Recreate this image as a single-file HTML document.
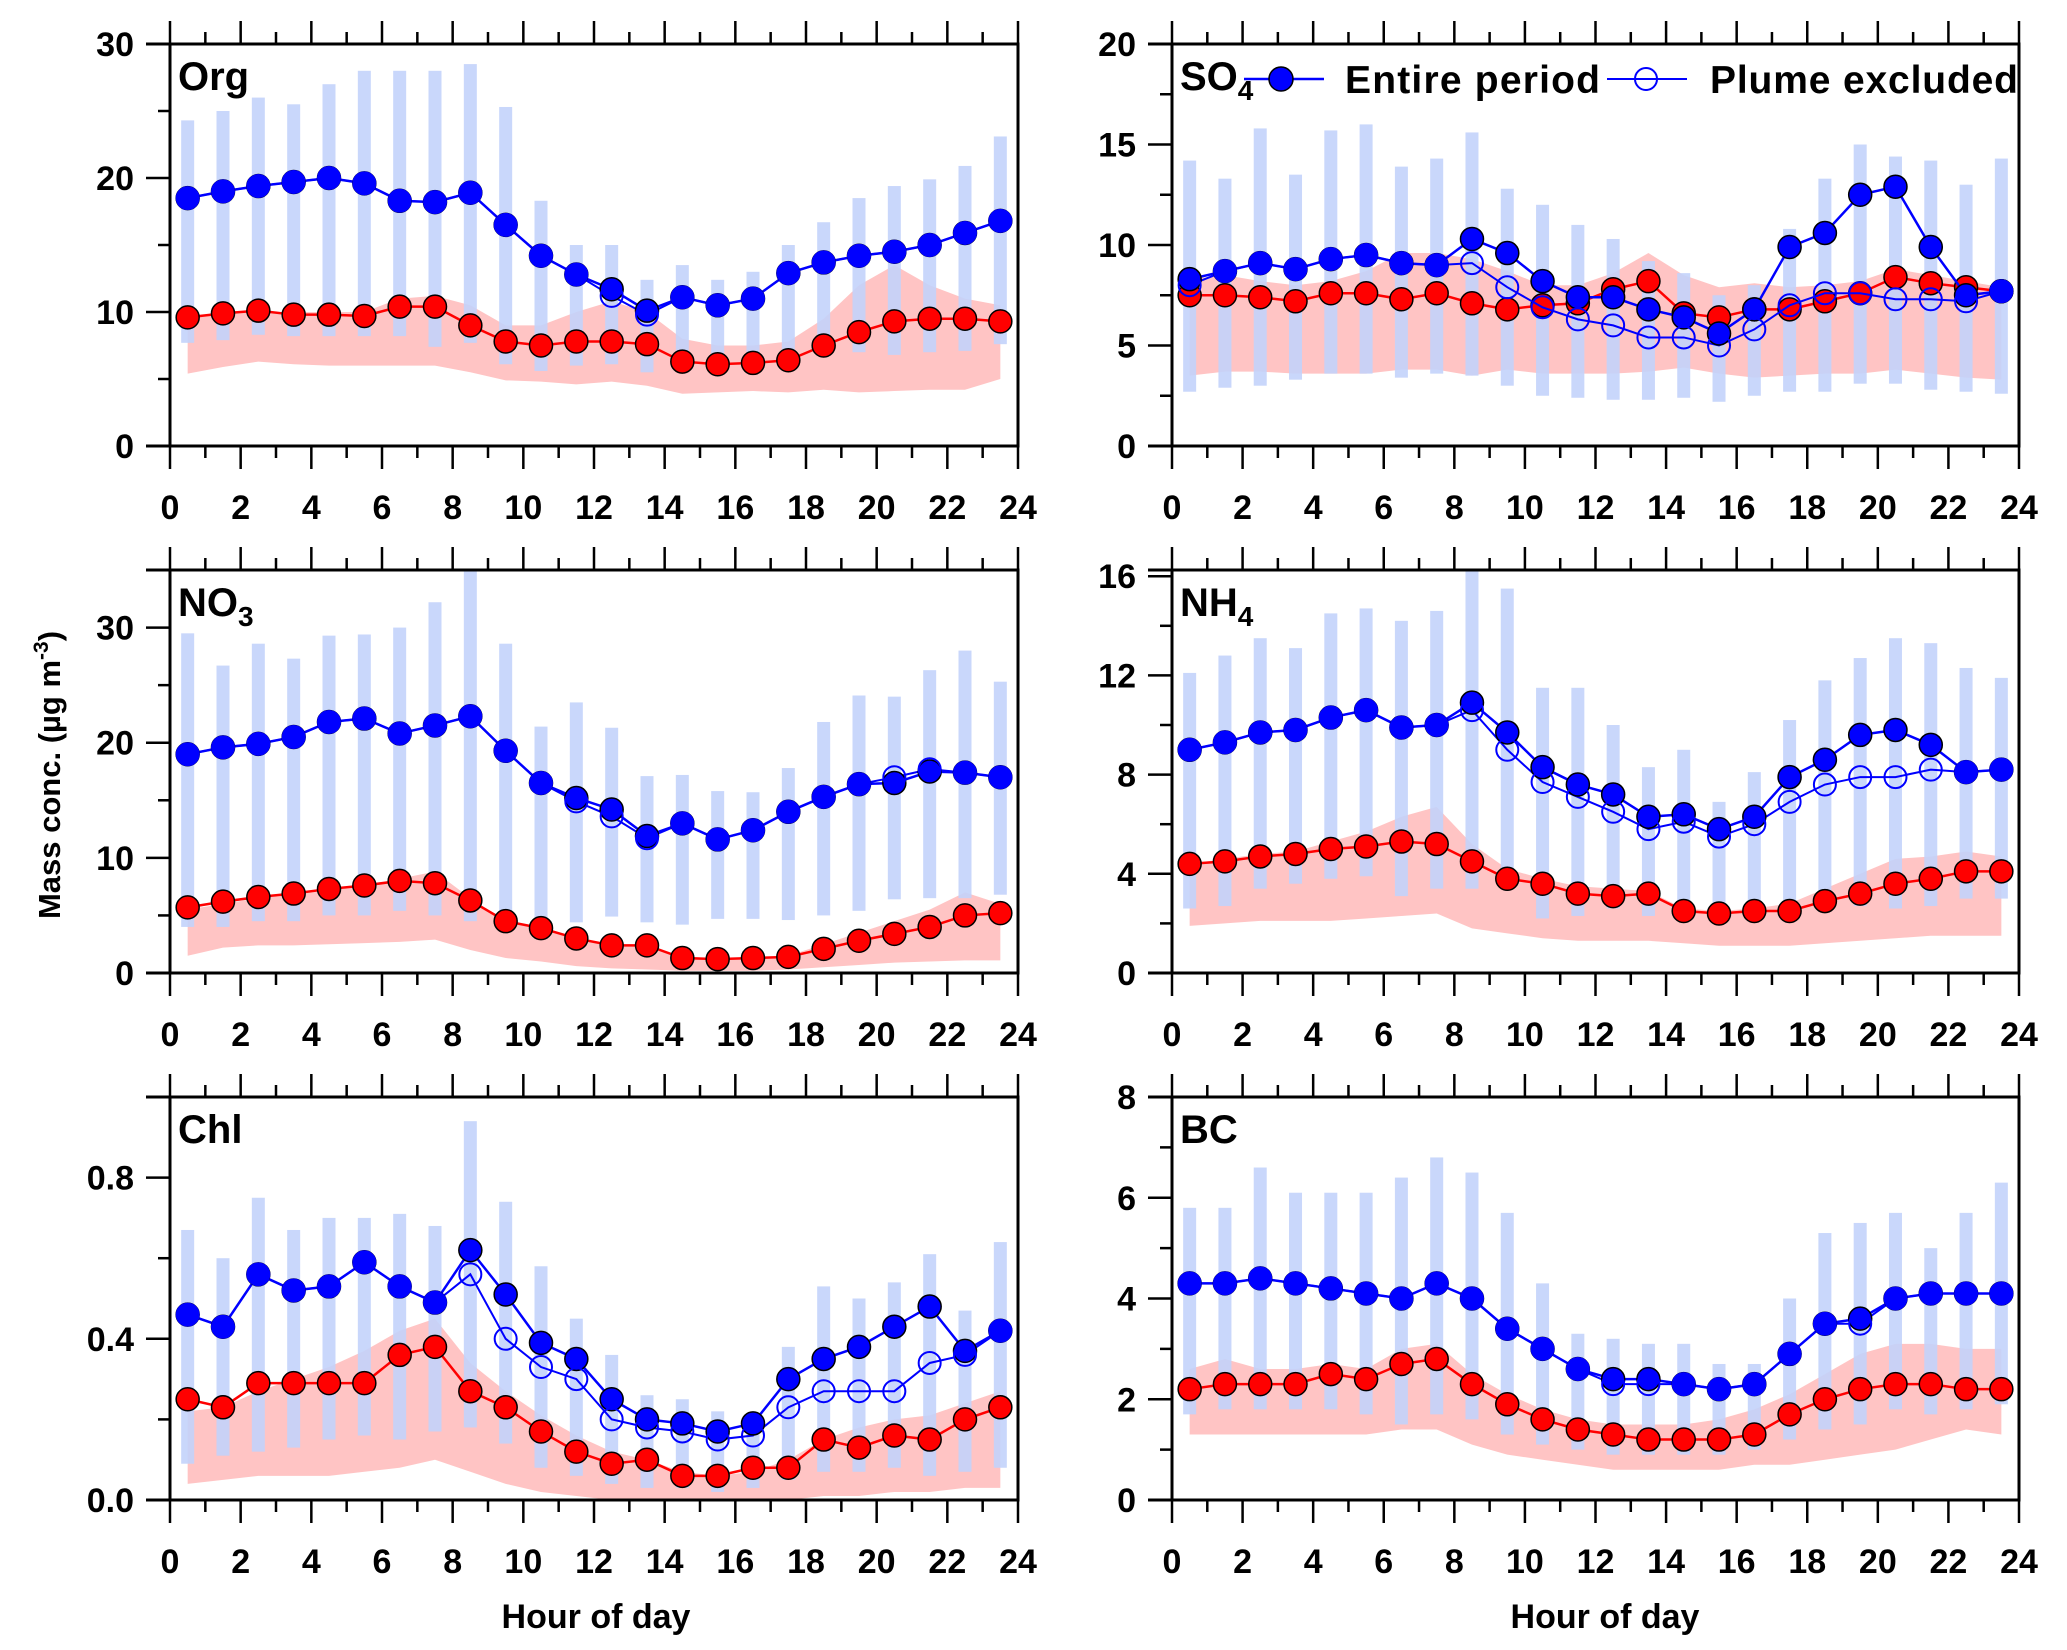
<!DOCTYPE html>
<html><head><meta charset="utf-8"><style>
html,body{margin:0;padding:0;background:#fff}
svg{display:block;font-family:"Liberation Sans",sans-serif;font-weight:bold}
</style></head><body>
<svg id="chart" xmlns="http://www.w3.org/2000/svg" width="2067" height="1650" viewBox="0 0 2067 1650">
<text transform="translate(60,775) rotate(-90)" text-anchor="middle" font-size="31">Mass conc. (µg m<tspan dy="-12" font-size="21">-3</tspan><tspan dy="12">)</tspan></text>
<text x="596" y="1628" text-anchor="middle" font-size="34">Hour of day</text>
<text x="1605" y="1628" text-anchor="middle" font-size="34">Hour of day</text>
</svg>
<script>
const hours=[0.5,1.5,2.5,3.5,4.5,5.5,6.5,7.5,8.5,9.5,10.5,11.5,12.5,13.5,14.5,15.5,16.5,17.5,18.5,19.5,20.5,21.5,22.5,23.5];
const xTicks=[0,2,4,6,8,10,12,14,16,18,20,22,24];
// Org
const orgEntire=[18.5,19,19.4,19.7,20,19.6,18.3,18.2,18.9,16.5,14.2,12.8,11.7,10.1,11.1,10.5,11,12.9,13.7,14.2,14.5,15,15.9,16.8];
const orgPlume=[18.5,19,19.4,19.7,20,19.6,18.3,18.2,18.9,16.5,14.2,12.8,11.2,9.8,11.1,10.5,11,12.9,13.7,14.2,14.5,15,15.9,16.8];
const orgRed=[9.6,9.9,10.1,9.8,9.8,9.7,10.4,10.4,9,7.8,7.5,7.8,7.8,7.6,6.3,6.1,6.2,6.4,7.5,8.5,9.3,9.5,9.5,9.3];
const orgBarHi=[24.3,25,26,25.5,27,28,28,28,28.5,25.3,18.3,15,15,12.4,13.5,12.4,13,15,16.7,18.5,19.4,19.9,20.9,23.1];
const orgBarLo=[7.7,7.9,8.3,8.2,8.2,8.2,8.2,7.4,7.7,6.1,5.6,6,6.1,5.5,6.5,6.5,6.8,7,7,7,6.8,7,7.1,7.6];
const orgShHi=[9.6,9.9,10,10,10,10,11,11.2,10.5,9,9,10,10.8,10,8,7.5,7.5,7.8,9.5,12,13.5,12,11,10.5];
const orgShLo=[5.4,5.9,6.3,6.1,6,6,6,6,5.5,4.9,4.8,4.6,4.8,4.5,3.9,4,4.1,4,4.2,4,4.1,4.2,4.2,5.0];
const orgTicks=[0,10,20,30];
// SO4
const so4Entire=[8.3,8.7,9.1,8.8,9.3,9.5,9.1,9,10.3,9.6,8.2,7.4,7.4,6.8,6.4,5.6,6.8,9.9,10.6,12.5,12.9,9.9,7.5,7.7];
const so4Plume=[8,8.7,9.1,8.8,9.3,9.5,9.1,9,9.1,7.9,6.9,6.3,6,5.4,5.4,5,5.8,7,7.6,7.6,7.3,7.3,7.2,7.7];
const so4Red=[7.5,7.5,7.4,7.2,7.6,7.6,7.3,7.6,7.1,6.8,7,7.1,7.8,8.2,6.6,6.4,6.8,6.8,7.2,7.6,8.4,8.1,7.9,7.7];
const so4BarHi=[14.2,13.3,15.8,13.5,15.7,16,13.9,14.3,15.6,12.8,12,11,10.3,9.2,8.6,7.5,8,10.8,13.3,15,14.4,14.2,13,14.3];
const so4BarLo=[2.7,2.9,3,3.3,3.6,3.6,3.4,3.6,3.5,3,2.5,2.4,2.3,2.3,2.4,2.2,2.5,2.7,2.7,3.1,3.1,2.8,2.7,2.6];
const so4ShHi=[8.3,8.5,8.2,8,8.2,8.7,9.6,9.6,9.3,8.7,8,8,8.6,9.6,8.5,7.9,8.1,7.9,8.0,8.2,8.8,8.5,8.2,7.9];
const so4ShLo=[3.5,3.7,3.7,3.6,3.6,3.6,3.8,3.8,3.5,3.8,3.6,3.6,3.6,3.7,3.9,3.6,3.4,3.5,3.6,3.6,3.8,3.6,3.4,3.3];
const so4Ticks=[0,5,10,15,20];
// NO3
const no3Entire=[19,19.6,19.9,20.5,21.8,22.1,20.8,21.5,22.3,19.3,16.5,15.2,14.2,11.9,13,11.6,12.4,14,15.3,16.4,16.5,17.5,17.4,17];
const no3Plume=[19,19.6,19.9,20.5,21.8,22.1,20.8,21.5,22.3,19.3,16.5,14.9,13.6,11.7,13,11.6,12.4,14,15.3,16.4,17,17.7,17.4,17];
const no3Red=[5.7,6.2,6.6,6.9,7.3,7.6,8,7.8,6.3,4.5,3.9,3,2.4,2.4,1.3,1.2,1.3,1.4,2.1,2.8,3.4,4,5,5.2];
const no3BarHi=[29.5,26.7,28.6,27.3,29.3,29.4,30,32.2,35,28.6,21.4,23.5,21.3,17.1,17.2,15.8,15.7,17.8,21.8,24.1,24,26.3,28,25.3];
const no3BarLo=[4,4,4.5,4.5,5,5,5.4,5,4.5,4,4.2,4.4,4.9,4.4,4.2,4.7,4.7,4.6,5,5.4,6.4,6.5,6.5,6.8];
const no3ShHi=[5.5,6,6.5,6.8,7.2,7.5,8.2,8.8,6.5,4.5,3.8,3,2.5,2.2,1.5,1.2,1.2,1.5,2.5,3.5,4.5,5.5,7,6];
const no3ShLo=[1.5,2.2,2.4,2.4,2.5,2.6,2.7,2.9,2,1.3,1,0.6,0.4,0.3,0.2,0.2,0.2,0.3,0.5,0.7,0.9,1,1.1,1.1];
const no3Ticks=[0,10,20,30];
// NH4
const nh4Entire=[9,9.3,9.7,9.8,10.3,10.6,9.9,10,10.9,9.7,8.3,7.6,7.2,6.3,6.4,5.8,6.3,7.9,8.6,9.6,9.8,9.2,8.1,8.2];
const nh4Plume=[9,9.3,9.7,9.8,10.3,10.6,9.9,10,10.6,9,7.7,7.1,6.5,5.8,6.1,5.5,6,6.9,7.6,7.9,7.9,8.2,8.1,8.2];
const nh4Red=[4.4,4.5,4.7,4.8,5,5.1,5.3,5.2,4.5,3.8,3.6,3.2,3.1,3.2,2.5,2.4,2.5,2.5,2.9,3.2,3.6,3.8,4.1,4.1];
const nh4BarHi=[12.1,12.8,13.5,13.1,14.5,14.7,14.2,14.6,16.2,15.5,11.5,11.5,10,8.3,9,6.9,8.1,10.2,11.8,12.7,13.5,13.3,12.3,11.9];
const nh4BarLo=[2.6,2.7,3.4,3.6,3.8,3.9,3.1,3.4,3.4,3.6,2.2,2.3,2.6,2.3,2.2,2.2,2.3,2.3,2.5,2.7,2.6,2.7,3,3];
const nh4ShHi=[4.4,4.6,4.8,4.9,5.3,5.7,6.3,6.7,5.2,4.2,3.8,3.5,3.4,3.3,2.6,2.5,2.6,2.8,3.4,4,4.6,4.7,4.9,4.7];
const nh4ShLo=[1.9,2,2.1,2.1,2.1,2.2,2.3,2.4,1.8,1.6,1.4,1.3,1.3,1.3,1.2,1.1,1.1,1.1,1.2,1.3,1.4,1.5,1.5,1.5];
const nh4Ticks=[0,4,8,12,16];
// Chl
const chlEntire=[.46,.43,.56,.52,.53,.59,.53,.49,.62,.51,.39,.35,.25,.2,.19,.17,.19,.3,.35,.38,.43,.48,.37,.42];
const chlPlume=[.46,.43,.56,.52,.53,.59,.53,.49,.56,.40,.33,.30,.2,.18,.17,.15,.16,.23,.27,.27,.27,.34,.36,.42];
const chlRed=[.25,.23,.29,.29,.29,.29,.36,.38,.27,.23,.17,.12,.09,.1,.06,.06,.08,.08,.15,.13,.16,.15,.2,.23];
const chlBarHi=[.67,.6,.75,.67,.7,.7,.71,.68,.94,.74,.58,.45,.36,.26,.25,.22,.21,.38,.53,.5,.54,.61,.47,.64];
const chlBarLo=[.09,.11,.12,.13,.15,.16,.15,.17,.18,.14,.08,.06,.04,.03,.03,.02,.03,.05,.07,.07,.08,.06,.07,.08];
const chlShHi=[.22,.23,.27,.3,.33,.37,.42,.45,.34,.27,.21,.16,.12,.1,.07,.06,.07,.1,.15,.18,.2,.21,.24,.27];
const chlShLo=[.04,.05,.06,.06,.06,.07,.08,.1,.07,.04,.02,.01,0,0,0,0,0,0,.01,.01,.02,.02,.03,.03];
const chlTicks=[0,0.4,0.8];
// BC
const bcEntire=[4.3,4.3,4.4,4.3,4.2,4.1,4,4.3,4,3.4,3,2.6,2.4,2.4,2.3,2.2,2.3,2.9,3.5,3.6,4,4.1,4.1,4.1];
const bcPlume=[4.3,4.3,4.4,4.3,4.2,4.1,4,4.3,4,3.4,3,2.6,2.3,2.3,2.3,2.2,2.3,2.9,3.5,3.5,4,4.1,4.1,4.1];
const bcRed=[2.2,2.3,2.3,2.3,2.5,2.4,2.7,2.8,2.3,1.9,1.6,1.4,1.3,1.2,1.2,1.2,1.3,1.7,2,2.2,2.3,2.3,2.2,2.2];
const bcBarHi=[5.8,5.8,6.6,6.1,6.1,6.1,6.4,6.8,6.5,5.7,4.3,3.3,3.2,3.1,3.1,2.7,2.7,4,5.3,5.5,5.7,5,5.7,6.3];
const bcBarLo=[1.7,1.8,1.8,1.8,1.8,1.7,1.5,1.7,1.6,1.3,1.1,1,0.9,0.9,0.9,0.9,1,1.2,1.4,1.5,1.8,1.7,1.8,1.9];
const bcShHi=[2.6,2.8,2.6,2.6,2.7,2.6,3,3.1,2.5,2.1,1.8,1.6,1.5,1.5,1.5,1.6,1.8,2.1,2.5,2.9,3.1,3.1,3,3];
const bcShLo=[1.3,1.3,1.3,1.3,1.3,1.3,1.4,1.4,1.1,0.9,0.8,0.7,0.6,0.6,0.6,0.6,0.7,0.7,0.8,0.9,1,1.2,1.4,1.3];
const bcTicks=[0,2,4,6,8];

const NS='http://www.w3.org/2000/svg';
const svg=document.getElementById('chart');
function mk(tag,attrs,parent){const e=document.createElementNS(NS,tag);for(const k in attrs)e.setAttribute(k,attrs[k]);(parent||svg).appendChild(e);return e;}

const panels=[
 {id:'org',label:'Org',sub:'',x0:170,x1:1018,top:44,bot:446,ymax:30,ticks:orgTicks,fmt:v=>String(v),e:orgEntire,p:orgPlume,r:orgRed,bh:orgBarHi,bl:orgBarLo,sh:orgShHi,sl:orgShLo},
 {id:'so4',label:'SO',sub:'4',x0:1172,x1:2019,top:44,bot:446,ymax:20,ticks:so4Ticks,fmt:v=>String(v),e:so4Entire,p:so4Plume,r:so4Red,bh:so4BarHi,bl:so4BarLo,sh:so4ShHi,sl:so4ShLo},
 {id:'no3',label:'NO',sub:'3',x0:170,x1:1018,top:570,bot:973,ymax:35,ticks:no3Ticks,fmt:v=>String(v),e:no3Entire,p:no3Plume,r:no3Red,bh:no3BarHi,bl:no3BarLo,sh:no3ShHi,sl:no3ShLo},
 {id:'nh4',label:'NH',sub:'4',x0:1172,x1:2019,top:570,bot:973,ymax:16.25,ticks:nh4Ticks,fmt:v=>String(v),e:nh4Entire,p:nh4Plume,r:nh4Red,bh:nh4BarHi,bl:nh4BarLo,sh:nh4ShHi,sl:nh4ShLo},
 {id:'chl',label:'Chl',sub:'',x0:170,x1:1018,top:1097,bot:1500,ymax:1.0,ticks:chlTicks,fmt:v=>v.toFixed(1),e:chlEntire,p:chlPlume,r:chlRed,bh:chlBarHi,bl:chlBarLo,sh:chlShHi,sl:chlShLo},
 {id:'bc',label:'BC',sub:'',x0:1172,x1:2019,top:1097,bot:1500,ymax:8,ticks:bcTicks,fmt:v=>String(v),e:bcEntire,p:bcPlume,r:bcRed,bh:bcBarHi,bl:bcBarLo,sh:bcShHi,sl:bcShLo}
];

panels.forEach(P=>{
 const g=mk('g',{});
 
 
 const X=v=>P.x0+(P.x1-P.x0)*v/24;
 const Y=v=>P.bot-(P.bot-P.top)*v/P.ymax;
 let d='M'+hours.map((h,i)=>X(h)+','+Y(P.sh[i])).join('L');
 for(let i=hours.length-1;i>=0;i--)d+='L'+X(hours[i])+','+Y(P.sl[i]);
 const sh=mk('path',{d:d+'Z',fill:'#ffc4c4'},g);
 
 
 hours.forEach((h,i)=>{
  const b=mk('rect',{x:X(h)-6.5,y:Y(P.bh[i]),width:13,height:Y(P.bl[i])-Y(P.bh[i]),fill:'#c3d3fb',opacity:0.9},g);
  
  
 });
 const rl=mk('polyline',{points:hours.map((h,i)=>X(h)+','+Y(P.r[i])).join(' '),fill:'none',stroke:'#ff0000','stroke-width':2.5},g);
 
 
 hours.forEach((h,i)=>{
  const c=mk('circle',{cx:X(h),cy:Y(P.r[i]),r:11.5,fill:'#ff0000',stroke:'#000','stroke-width':1.5},g);
  
  
 });
 const pl=mk('polyline',{points:hours.map((h,i)=>X(h)+','+Y(P.p[i])).join(' '),fill:'none',stroke:'#0000ff','stroke-width':2},g);
 
 
 const el=mk('polyline',{points:hours.map((h,i)=>X(h)+','+Y(P.e[i])).join(' '),fill:'none',stroke:'#0000ff','stroke-width':2.5},g);
 
 
 hours.forEach((h,i)=>{
  const c=mk('circle',{cx:X(h),cy:Y(P.e[i]),r:11.5,fill:'#0000ff',stroke:'#000','stroke-width':1.5},g);
  
  
 });
 hours.forEach((h,i)=>{
  const c=mk('circle',{cx:X(h),cy:Y(P.p[i]),r:11,fill:'none',stroke:'#0000ff','stroke-width':2},g);
  
  
 });
 const fr=mk('rect',{x:P.x0,y:P.top,width:P.x1-P.x0,height:P.bot-P.top,fill:'none',stroke:'#000','stroke-width':3},g);
 
 
 for(let h=0;h<=24;h++){
  const len=h%2===0?23:12;
  mk('line',{x1:X(h),x2:X(h),y1:P.bot,y2:P.bot+len,stroke:'#000','stroke-width':2.5},g);
  mk('line',{x1:X(h),x2:X(h),y1:P.top,y2:P.top-len,stroke:'#000','stroke-width':2.5},g);
 }
 xTicks.forEach(v=>{
  const t=mk('text',{x:X(v),y:P.bot+73,'text-anchor':'middle','font-size':34},g);
  t.textContent=v;
  
  
 });
 mk('line',{x1:P.x0-24,x2:P.x0,y1:P.bot,y2:P.bot,stroke:'#000','stroke-width':3},g);
 mk('line',{x1:P.x0-24,x2:P.x0,y1:P.top,y2:P.top,stroke:'#000','stroke-width':3},g);
 const step=P.ticks[1]-P.ticks[0];
 P.ticks.forEach(v=>{
  mk('line',{x1:P.x0-24,x2:P.x0,y1:Y(v),y2:Y(v),stroke:'#000','stroke-width':2.5},g);
  const m=v+step/2;
  if(m<P.ymax) mk('line',{x1:P.x0-12,x2:P.x0,y1:Y(m),y2:Y(m),stroke:'#000','stroke-width':2.5},g);
  const t=mk('text',{x:P.x0-36,y:Y(v)+12,'text-anchor':'end','font-size':34},g);
  t.textContent=P.fmt(v);
  
  
 });
 const lt=mk('text',{x:P.x0+8,y:P.top+46,'font-size':40},g);
 lt.textContent=P.label;
 if(P.sub){const s=mk('tspan',{dy:10,'font-size':28},lt);s.textContent=P.sub;}
 
 
});

const lg=mk('g',{});


mk('line',{x1:1244,x2:1324,y1:79,y2:79,stroke:'#0000ff','stroke-width':2.5},lg);
mk('circle',{cx:1281,cy:79,r:12,fill:'#0000ff',stroke:'#000','stroke-width':1.5},lg);
const t1=mk('text',{x:1345,y:93,'font-size':39,textLength:255},lg);t1.textContent='Entire period';


mk('line',{x1:1607,x2:1687,y1:79,y2:79,stroke:'#0000ff','stroke-width':2},lg);
mk('circle',{cx:1646,cy:79,r:11,fill:'none',stroke:'#0000ff','stroke-width':2},lg);
const t2=mk('text',{x:1710,y:93,'font-size':39,textLength:308},lg);t2.textContent='Plume excluded';


</script>
</body></html>
